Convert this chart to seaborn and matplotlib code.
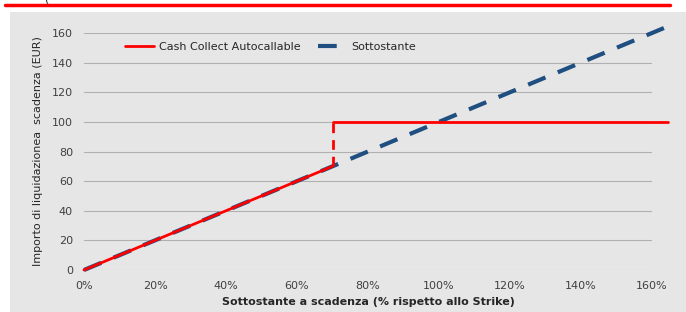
import numpy as np
import matplotlib
matplotlib.use("Agg")
import matplotlib.pyplot as plt
from matplotlib.patches import Rectangle
from matplotlib.lines import Line2D
import seaborn as sns

# data
under_x = [0.0, 1.645]
under_y = [0, 164.5]
cc_x = [0.0, 0.70]
cc_y = [0, 70]
barrier_x = [0.70, 0.70]
barrier_y = [70, 100]
cap_x = [0.70, 1.645]
cap_y = [100, 100]
xticks = [0, 0.2, 0.4, 0.6, 0.8, 1.0, 1.2, 1.4, 1.6]
yticks = [0, 20, 40, 60, 80, 100, 120, 140, 160]

sns.set_style("white")
plt.rcParams['font.family'] = ['Liberation Sans Narrow', 'DejaVu Sans']

fig = plt.figure(figsize=(6.86, 3.12), dpi=100)
#grey panel and red rule on top
fig.add_artist(Rectangle((10/686, 0), 676/686, 300/312, transform=fig.transFigure,
                         facecolor="#e6e6e6", edgecolor="none", zorder=0))
fig.add_artist(Line2D([5/686, 670/686], [1-5/312, 1-5/312], transform=fig.transFigure,
                      color="#ff0000", lw=2.5))
fig.text(45/686, 1.0, "(", fontsize=8, va="center", ha="left")

ax = fig.add_axes([84/686, 42/312, 568/686, 237/312])
ax.set_facecolor("none")

blue = "#1f4e80"
red = "#ff0000"
kw = dict(ax=ax, sort=False, estimator=None, clip_on=False)
sns.lineplot(x=under_x, y=under_y, color=blue, lw=3, linestyle=(0, (4.5, 3.2)),
             label="Sottostante", zorder=2, **kw)
sns.lineplot(x=cc_x, y=cc_y, color=red, lw=2, label="Cash Collect Autocallable",
             zorder=3, **kw)
sns.lineplot(x=barrier_x, y=barrier_y, color=red, lw=2, linestyle=(0, (3.5, 2.5)),
             zorder=3, **kw)
sns.lineplot(x=cap_x, y=cap_y, color=red, lw=2, zorder=3, **kw)

ax.set_xlim(0, 1.6)
ax.set_ylim(0, 160)
ax.set_xticks(xticks)
ax.set_xticklabels([f"{int(round(t*100))}%" for t in xticks])
ax.set_yticks(yticks)
ax.yaxis.grid(True, color="#b0b0b0", lw=0.8)
ax.set_axisbelow(True)
for s in ax.spines.values():
    s.set_visible(False)
ax.tick_params(length=0, labelsize=8, colors="#404040", pad=8)
ax.set_xlabel("Sottostante a scadenza (% rispetto allo Strike)", fontsize=8,
              fontweight="bold", labelpad=4)
ax.set_ylabel("Importo di liquidazionea  scadenza (EUR)", fontsize=8, labelpad=6)

h, l = ax.get_legend_handles_labels()
ax.legend(h[::-1], l[::-1], loc="upper left", bbox_to_anchor=(0.055, 1.005), ncol=2,
          frameon=False, fontsize=8, handlelength=2.6, handletextpad=0.4,
          columnspacing=1.6)

fig.savefig("out.png", dpi=100)
